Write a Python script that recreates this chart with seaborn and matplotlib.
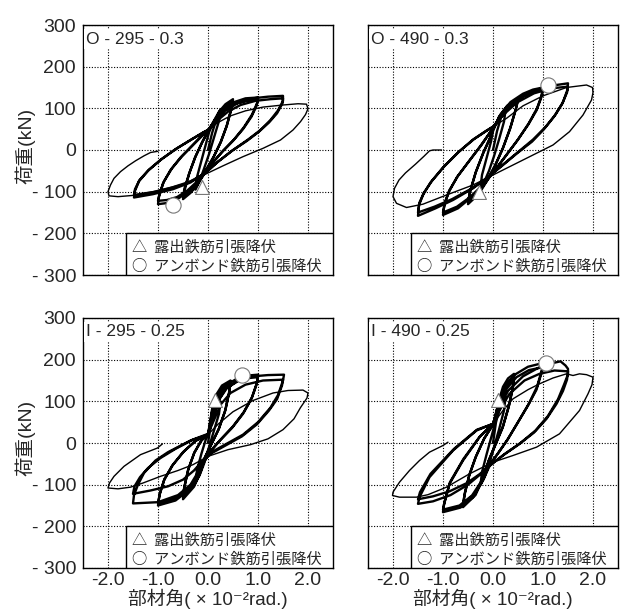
import numpy as np
import matplotlib
matplotlib.use('Agg')
import matplotlib.pyplot as plt
import matplotlib.patches as mpatches
import seaborn as sns

# hysteresis paths: (drift x10^-2 rad, load kN)
# each panel: repeated cycles, then the last big cycle

o295_cycles = [
    (0.00, 0), (0.08, 40), (0.17, 75), (0.25, 98), (0.22, 70), (0.12, 30), (0.02, -10), (-0.08, -45),
    (-0.17, -75), (-0.25, -95), (-0.22, -65), (-0.13, -25), (-0.04, 15), (0.02, 42),
    (0.10, 66), (0.22, 92), (0.35, 110), (0.50, 122), (0.47, 100), (0.38, 60), (0.26, 20), (0.12, -15),
    (0.00, -40), (-0.10, -62), (-0.22, -85), (-0.35, -103), (-0.50, -118), (-0.47, -98), (-0.38, -58),
    (-0.26, -18), (-0.12, 18), (0.00, 44),
    (0.10, 62), (0.22, 88), (0.36, 106), (0.50, 118), (0.46, 96), (0.37, 56), (0.25, 18), (0.11, -17),
    (-0.01, -42), (-0.11, -63), (-0.23, -84), (-0.36, -100), (-0.50, -112), (-0.47, -92), (-0.37, -54),
    (-0.25, -16), (-0.11, 20), (0.00, 46),
    (0.15, 75), (0.30, 98), (0.50, 114), (0.75, 124), (1.00, 126), (0.98, 112), (0.88, 85), (0.72, 55),
    (0.52, 25), (0.30, -2), (0.10, -30), (-0.05, -52), (-0.20, -75), (-0.40, -100), (-0.60, -117),
    (-0.80, -127), (-1.00, -130), (-0.98, -112), (-0.90, -80), (-0.75, -48), (-0.55, -18), (-0.32, 10),
    (-0.12, 35), (0.00, 48),
    (0.15, 72), (0.32, 95), (0.52, 110), (0.76, 118), (1.00, 120), (0.97, 106), (0.87, 80), (0.70, 50),
    (0.50, 22), (0.28, -5), (0.08, -32), (-0.06, -54), (-0.22, -76), (-0.42, -98), (-0.62, -113),
    (-0.82, -120), (-1.00, -122), (-0.97, -105), (-0.88, -75), (-0.72, -44), (-0.52, -15), (-0.30, 12),
    (-0.10, 36), (0.00, 47),
    (0.15, 72), (0.35, 95), (0.60, 113), (0.90, 124), (1.20, 128), (1.50, 130), (1.50, 118), (1.40, 95),
    (1.25, 72), (1.05, 48), (0.80, 25), (0.50, 0), (0.20, -28), (-0.05, -55), (-0.35, -78), (-0.70, -94),
    (-1.10, -106), (-1.48, -114), (-1.46, -98), (-1.38, -75), (-1.20, -50), (-0.95, -24), (-0.65, 2),
    (-0.35, 24), (-0.10, 42), (0.00, 48),
    (0.18, 70), (0.40, 92), (0.65, 108), (0.95, 118), (1.25, 122), (1.50, 124), (1.49, 112), (1.38, 88),
    (1.22, 66), (1.02, 44), (0.78, 22), (0.48, -2), (0.18, -30), (-0.06, -56), (-0.36, -76), (-0.72, -90),
    (-1.10, -101), (-1.48, -108), (-1.46, -94), (-1.37, -72), (-1.18, -47), (-0.92, -21), (-0.62, 4),
    (-0.32, 26), (-0.08, 43), (0.00, 48),
]
o295_last = [
    (0.00, 48), (0.20, 66), (0.45, 82), (0.75, 94), (1.10, 103), (1.50, 108), (1.80, 111), (1.97, 110),
    (2.00, 99), (1.95, 85), (1.85, 68), (1.70, 48), (1.45, 24), (1.10, 4), (0.70, -16), (0.30, -38),
    (-0.05, -58), (-0.50, -82), (-1.00, -98), (-1.50, -109), (-1.80, -112), (-1.98, -110), (-2.00, -100),
    (-1.95, -84), (-1.88, -68), (-1.75, -52), (-1.60, -38), (-1.45, -26), (-1.28, -14), (-1.15, -6),
    (-1.00, -3),
]

o490_cycles = [
    (0.00, 0), (0.08, 45), (0.16, 78), (0.25, 95), (0.22, 68), (0.12, 25), (0.02, -15), (-0.08, -50),
    (-0.17, -75), (-0.25, -90), (-0.22, -60), (-0.13, -20), (-0.04, 20), (0.00, 45),
    (0.12, 80), (0.28, 106), (0.50, 124), (0.46, 100), (0.35, 55), (0.20, 5), (0.05, -35), (-0.10, -70),
    (-0.28, -105), (-0.50, -130), (-0.46, -100), (-0.35, -55), (-0.20, -8), (-0.05, 32), (0.00, 50),
    (0.13, 78), (0.29, 102), (0.50, 118), (0.45, 95), (0.34, 50), (0.19, 2), (0.04, -38), (-0.11, -72),
    (-0.29, -102), (-0.50, -124), (-0.45, -96), (-0.34, -52), (-0.19, -6), (-0.04, 33), (0.00, 50),
    (0.15, 85), (0.35, 115), (0.60, 135), (0.80, 145), (1.00, 150), (0.97, 130), (0.88, 100), (0.72, 65),
    (0.50, 25), (0.25, -15), (0.00, -55), (-0.20, -85), (-0.45, -115), (-0.70, -140), (-1.00, -156),
    (-0.97, -130), (-0.88, -100), (-0.72, -65), (-0.50, -30), (-0.25, 10), (0.00, 52),
    (0.16, 82), (0.37, 110), (0.62, 130), (0.82, 140), (1.00, 144), (0.96, 124), (0.87, 95), (0.70, 60),
    (0.48, 22), (0.23, -18), (-0.02, -57), (-0.22, -86), (-0.47, -114), (-0.72, -136), (-1.00, -150),
    (-0.96, -125), (-0.87, -96), (-0.70, -62), (-0.48, -27), (-0.23, 12), (0.00, 53),
    (0.20, 90), (0.45, 120), (0.80, 142), (1.15, 154), (1.50, 160), (1.49, 145), (1.40, 115), (1.25, 85),
    (1.05, 55), (0.80, 25), (0.50, -5), (0.20, -35), (-0.10, -65), (-0.40, -92), (-0.80, -120),
    (-1.15, -140), (-1.50, -158), (-1.48, -132), (-1.40, -108), (-1.25, -78), (-1.00, -42), (-0.70, -6),
    (-0.40, 25), (-0.15, 45), (0.00, 56),
    (0.22, 86), (0.48, 114), (0.82, 136), (1.17, 148), (1.50, 152), (1.48, 138), (1.38, 110), (1.22, 80),
    (1.02, 50), (0.78, 20), (0.48, -8), (0.18, -38), (-0.12, -67), (-0.42, -92), (-0.82, -118),
    (-1.17, -136), (-1.50, -150), (-1.47, -126), (-1.38, -102), (-1.22, -74), (-0.98, -40), (-0.68, -4),
    (-0.38, 26), (-0.13, 46), (0.00, 56),
]
o490_last = [
    (0.00, 56), (0.27, 76), (0.60, 106), (1.00, 130), (1.47, 150), (1.87, 156), (1.99, 150), (2.00, 138),
    (1.97, 120), (1.80, 84), (1.53, 44), (1.20, 12), (0.80, -12), (0.40, -36), (0.00, -60), (-0.40, -84),
    (-0.93, -108), (-1.40, -130), (-1.73, -138), (-1.93, -128), (-2.00, -112), (-1.97, -92), (-1.88, -72),
    (-1.75, -55), (-1.55, -34), (-1.38, -15), (-1.27, -2), (-1.20, 0), (-1.03, 0),
]

i295_cycles = [
    (0.00, 0), (0.06, 45), (0.15, 80), (0.25, 100), (0.22, 70), (0.12, 30), (0.02, -10), (-0.08, -50),
    (-0.17, -78), (-0.25, -95), (-0.22, -65), (-0.13, -25), (-0.04, 10), (0.02, 30),
    (0.08, 80), (0.16, 115), (0.28, 138), (0.45, 150), (0.43, 125), (0.35, 80), (0.22, 35), (0.08, 0),
    (-0.06, -35), (-0.15, -70), (-0.28, -105), (-0.50, -135), (-0.48, -110), (-0.40, -65), (-0.28, -25),
    (-0.14, 5), (0.00, 22),
    (0.08, 75), (0.17, 110), (0.29, 132), (0.45, 144), (0.42, 120), (0.34, 76), (0.21, 32), (0.07, -2),
    (-0.07, -36), (-0.16, -70), (-0.29, -102), (-0.50, -128), (-0.47, -104), (-0.39, -62), (-0.27, -22),
    (-0.13, 6), (0.00, 22),
    (0.10, 70), (0.20, 110), (0.35, 138), (0.60, 156), (0.80, 162), (1.00, 164), (0.98, 145), (0.88, 110),
    (0.72, 75), (0.50, 40), (0.25, 8), (0.05, -20), (-0.10, -50), (-0.22, -85), (-0.40, -115),
    (-0.65, -138), (-1.00, -150), (-0.97, -125), (-0.88, -90), (-0.72, -55), (-0.50, -22), (-0.25, 5),
    (0.00, 20),
    (0.11, 66), (0.22, 104), (0.38, 132), (0.62, 150), (0.82, 156), (1.00, 158), (0.97, 140), (0.87, 106),
    (0.70, 70), (0.48, 36), (0.23, 5), (0.03, -22), (-0.12, -52), (-0.24, -86), (-0.42, -114),
    (-0.67, -134), (-1.00, -144), (-0.96, -120), (-0.87, -86), (-0.70, -52), (-0.48, -20), (-0.24, 6),
    (0.00, 20),
    (0.10, 60), (0.20, 100), (0.35, 130), (0.60, 150), (0.90, 160), (1.20, 163), (1.52, 164), (1.50, 150),
    (1.40, 115), (1.25, 85), (1.00, 50), (0.70, 20), (0.40, 0), (0.10, -20), (-0.10, -42), (-0.20, -70),
    (-0.35, -100), (-0.60, -125), (-1.00, -142), (-1.50, -145), (-1.48, -125), (-1.40, -100),
    (-1.28, -72), (-1.05, -42), (-0.80, -22), (-0.35, 6), (0.00, 22),
    (0.12, 55), (0.25, 92), (0.45, 120), (0.75, 140), (1.10, 150), (1.50, 152), (1.48, 138), (1.38, 105),
    (1.22, 78), (0.98, 45), (0.68, 16), (0.38, -4), (0.08, -24), (-0.12, -44), (-0.28, -66), (-0.50, -88),
    (-0.80, -104), (-1.15, -114), (-1.50, -122), (-1.47, -104), (-1.36, -82), (-1.20, -60), (-0.95, -36),
    (-0.65, -14), (-0.30, 8), (0.00, 20),
]
i295_last = [
    (0.00, 20), (0.20, 45), (0.50, 75), (0.90, 102), (1.30, 120), (1.60, 126), (1.90, 127), (2.00, 120),
    (1.98, 108), (1.85, 85), (1.72, 58), (1.50, 32), (1.20, 10), (0.85, -4), (0.40, -16), (0.00, -32),
    (-0.30, -52), (-0.60, -66), (-0.95, -80), (-1.30, -96), (-1.55, -106), (-1.80, -110), (-2.00, -108),
    (-1.97, -96), (-1.88, -80), (-1.68, -56), (-1.35, -28), (-1.01, -12), (-0.91, -2),
]

i490_cycles = [
    (0.00, 0), (0.06, 50), (0.15, 90), (0.25, 110), (0.22, 78), (0.12, 32), (0.02, -10), (-0.08, -52),
    (-0.17, -82), (-0.25, -100), (-0.22, -70), (-0.13, -28), (-0.04, 12), (0.02, 38),
    (0.10, 95), (0.20, 135), (0.30, 155), (0.42, 166), (0.40, 135), (0.32, 90), (0.20, 40), (0.06, 0),
    (-0.08, -40), (-0.20, -85), (-0.35, -125), (-0.60, -154), (-0.57, -125), (-0.48, -80), (-0.35, -35),
    (-0.18, 10), (0.00, 44),
    (0.10, 90), (0.21, 128), (0.31, 148), (0.42, 158), (0.39, 128), (0.31, 85), (0.19, 36), (0.05, -4),
    (-0.09, -44), (-0.21, -86), (-0.36, -122), (-0.60, -146), (-0.56, -118), (-0.47, -75), (-0.34, -32),
    (-0.17, 12), (0.00, 44),
    (0.10, 90), (0.25, 135), (0.45, 165), (0.70, 183), (1.00, 192), (0.97, 172), (0.88, 135), (0.72, 95),
    (0.50, 50), (0.30, 10), (0.10, -25), (-0.05, -50), (-0.20, -90), (-0.40, -130), (-0.65, -155),
    (-1.00, -166), (-0.98, -148), (-0.87, -98), (-0.60, -42), (-0.27, 14), (0.00, 46),
    (0.11, 86), (0.27, 130), (0.47, 158), (0.72, 175), (1.00, 182), (0.96, 164), (0.87, 128), (0.70, 90),
    (0.48, 46), (0.28, 6), (0.08, -28), (-0.07, -52), (-0.22, -90), (-0.42, -126), (-0.67, -150),
    (-1.00, -160), (-0.97, -142), (-0.86, -94), (-0.59, -38), (-0.26, 16), (0.00, 46),
    (0.10, 80), (0.30, 125), (0.60, 160), (0.90, 180), (1.20, 192), (1.35, 196), (1.45, 186), (1.50, 178),
    (1.50, 165), (1.42, 140), (1.30, 105), (1.10, 65), (0.85, 30), (0.55, 0), (0.25, -25), (0.00, -48),
    (-0.25, -75), (-0.50, -100), (-0.85, -125), (-1.20, -140), (-1.50, -146), (-1.47, -130),
    (-1.27, -82), (-0.80, -18), (-0.33, 30), (0.00, 46),
    (0.12, 76), (0.33, 118), (0.63, 150), (0.93, 166), (1.23, 174), (1.50, 172), (1.48, 152), (1.40, 125),
    (1.27, 94), (1.07, 58), (0.82, 25), (0.52, -3), (0.22, -28), (-0.02, -50), (-0.27, -75), (-0.52, -96),
    (-0.87, -116), (-1.20, -128), (-1.50, -135), (-1.46, -118), (-1.25, -74), (-0.78, -14), (-0.32, 32),
    (0.00, 46),
]
i490_last = [
    (0.00, 46), (0.20, 78), (0.40, 106), (0.70, 128), (0.93, 142), (1.20, 156), (1.47, 166), (1.60, 162),
    (1.73, 166), (1.87, 164), (2.00, 158), (1.98, 140), (1.90, 118), (1.73, 78), (1.33, 22), (0.87, -10),
    (0.40, -30), (0.00, -46), (-0.47, -74), (-0.93, -106), (-1.30, -124), (-1.53, -130), (-1.87, -130),
    (-2.01, -126), (-2.00, -118), (-1.87, -94), (-1.67, -66), (-1.47, -42), (-1.27, -22), (-1.00, -6),
    (-0.90, 2),
]

# yield points (triangle: exposed bar, circle: unbonded bar)
tri_points = [(-0.12, -89), (-0.28, -100), (0.14, 103), (0.10, 103)]
circ_points = [(-0.70, -132), (1.10, 156), (0.68, 163), (1.06, 192)]

titles = ['O - 295 - 0.3', 'O - 490 - 0.3', 'I - 295 - 0.25', 'I - 490 - 0.25']
cycles = [o295_cycles, o490_cycles, i295_cycles, i490_cycles]
lasts = [o295_last, o490_last, i295_last, i490_last]

x_ticks = [-2, -1, 0, 1, 2]
x_labels = ['-2.0', '-1.0', '0.0', '1.0', '2.0']
y_ticks = [300, 200, 100, 0, -100, -200, -300]
y_labels = ['300', '200', '100', '0', '- 100', '- 200', '- 300']

legend_lines = ['△  露出鉄筋引張降伏', '○  アンボンド鉄筋引張降伏']

sns.set_style('white')
plt.rcParams['font.family'] = ['Liberation Sans', 'Noto Sans CJK JP', 'DejaVu Sans']

fig = plt.figure(figsize=(6.24, 6.10), dpi=100)
W, H = 624, 610
boxes = [(83, 25), (368, 25), (83, 318), (368, 318)]

for i in range(4):
    left, top = boxes[i]
    ax = fig.add_axes([left / W, 1 - (top + 250) / H, 250 / W, 250 / H])
    ax.set_xlim(-2.5, 2.5)
    ax.set_ylim(-300, 300)
    ax.set_axisbelow(True)
    ax.grid(True, color='black', linestyle=(0, (1, 1.5)), linewidth=0.8)
    for sp in ax.spines.values():
        sp.set_color('black')
        sp.set_linewidth(1.0)
    ax.set_xticks(x_ticks)
    ax.set_yticks(y_ticks)
    ax.tick_params(length=0, labelsize=14)
    ax.tick_params(axis='y', pad=5)
    ax.tick_params(axis='x', pad=3)
    if i % 2 == 0:
        ax.set_yticklabels(y_labels)
    else:
        ax.set_yticklabels([])
    if i >= 2:
        ax.set_xticklabels(x_labels)
    else:
        ax.set_xticklabels([])

    c = np.array(cycles[i], dtype=float)
    l = np.array(lasts[i], dtype=float)
    sns.lineplot(x=c[:, 0], y=c[:, 1], sort=False, estimator=None, color='black',
                 linewidth=1.7, ax=ax)
    sns.lineplot(x=l[:, 0], y=l[:, 1], sort=False, estimator=None, color='black',
                 linewidth=1.0, ax=ax)

    sns.scatterplot(x=[tri_points[i][0]], y=[tri_points[i][1]], marker='^', s=100,
                    color='white', edgecolor='#777777', linewidth=0.8, zorder=5, ax=ax)
    sns.scatterplot(x=[circ_points[i][0]], y=[circ_points[i][1]], marker='o', s=120,
                    color='white', edgecolor='#777777', linewidth=0.8, zorder=5, ax=ax)

    ax.text(0.012, 0.944, titles[i], transform=ax.transAxes, fontsize=12.5, va='center',
            ha='left', zorder=6,
            bbox=dict(facecolor='white', edgecolor='none', pad=1.5))

    ax.add_patch(mpatches.Rectangle((-1.65, -300), 4.15, 101, facecolor='white',
                                    edgecolor='black', linewidth=1.0, zorder=4))
    ax.text(-1.52, -233, legend_lines[0], fontsize=11, va='center', ha='left', zorder=6,
            family=['Noto Sans CJK JP', 'DejaVu Sans'])
    ax.text(-1.52, -279, legend_lines[1], fontsize=11, va='center', ha='left', zorder=6,
            family=['Noto Sans CJK JP', 'DejaVu Sans'])

fig.text(25 / W, 1 - 146 / H, '荷重(kN)', rotation=90, ha='center', va='center', fontsize=14)
fig.text(25 / W, 1 - 438 / H, '荷重(kN)', rotation=90, ha='center', va='center', fontsize=14)
xl = '部材角( × 10⁻²rad.)'
fig.text(208 / W, 1 - 605 / H, xl, ha='center', va='baseline', fontsize=13.5)
fig.text(493 / W, 1 - 605 / H, xl, ha='center', va='baseline', fontsize=13.5)

fig.savefig('out.png', dpi=100)
